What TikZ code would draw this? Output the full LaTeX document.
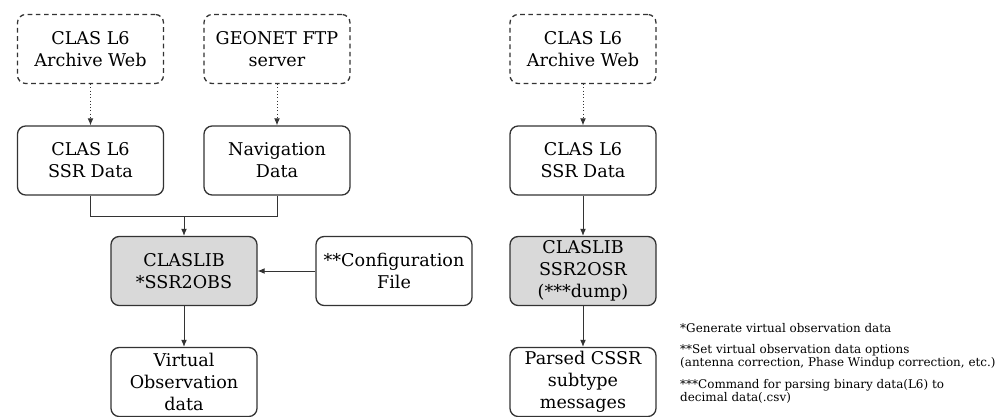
\documentclass[tikz,border=0pt]{standalone}
\usepackage{fontspec}
\setmainfont{DejaVu Serif}
\usepackage{tikz}
\usetikzlibrary{positioning, arrows.meta, calc}

\definecolor{lineclr}{HTML}{333333}
\definecolor{libfill}{HTML}{D9D9D9}

\tikzset{
  clas/box/.style={draw=lineclr, line width=1.1pt, rounded corners=7pt,
    minimum width=4.38cm, minimum height=2.07cm, align=center,
    inner sep=2pt, font=\fontsize{15}{18.8}\selectfont},
  clas/source/.style={clas/box, dashed, dash pattern=on 4pt off 3pt},
  clas/lib/.style={clas/box, fill=libfill},
  clas/flow/.style={-{Latex[length=6pt, width=5pt]}, draw=lineclr, line width=0.8pt},
  clas/fetch/.style={clas/flow, dotted},
  clas/note/.style={anchor=west, align=left, inner sep=0pt,
    font=\fontsize{10.2}{11.2}\selectfont},
}

\begin{document}
\begin{tikzpicture}[x=0.03cm, y=-0.03cm]

\useasboundingbox (0,0) rectangle (1000,417);

% ── Left chain: SSR2OBS ─────────────────────────────────
\node[clas/source] (web1) at (90.5, 49) {CLAS L6\\Archive Web};
\node[clas/source] (ftp)  at (277, 49)  {GEONET FTP\\server};

\node[clas/box] (ssr1) at (90.5, 160.5) {CLAS L6\\SSR Data};
\node[clas/box] (nav)  at (277, 160.5)  {Navigation\\Data};

\node[clas/lib] (obs) at (184, 271) {CLASLIB\\*SSR2OBS};
\node[clas/box, minimum width=4.68cm] (conf) at (394, 271)
  {**Configuration\\File};

\node[clas/box] (vobs) at (184, 382) {Virtual\\Observation\\data};

\coordinate (join) at (184, 216);

\draw[clas/fetch] (web1) -- (ssr1);
\draw[clas/fetch] (ftp) -- (nav);

% merge of the two inputs
\draw[draw=lineclr, line width=0.8pt] (ssr1.south) |- (join);
\draw[draw=lineclr, line width=0.8pt] (nav.south) |- (join);
\draw[clas/flow] (join) -- (obs.north);

\draw[clas/flow] (conf) -- (obs);
\draw[clas/flow] (obs) -- (vobs);

% ── Right chain: SSR2OSR ────────────────────────────────
\node[clas/source] (web2) at (583, 49) {CLAS L6\\Archive Web};
\node[clas/box] (ssr2) at (583, 160.5) {CLAS L6\\SSR Data};
\node[clas/lib] (osr) at (583, 271) {CLASLIB\\SSR2OSR\\(***dump)};
\node[clas/box] (cssr) at (583, 382) {Parsed CSSR\\subtype\\messages};

\draw[clas/fetch] (web2) -- (ssr2);
\draw[clas/flow] (ssr2) -- (osr);
\draw[clas/flow] (osr) -- (cssr);

% ── Notes ───────────────────────────────────────────────
\node[clas/note] (n1) at (680, 328) {*Generate virtual observation data};
\node[clas/note] (n2) at (680, 357)
  {**Set virtual observation data options\\(antenna correction, Phase Windup correction, etc.)};
\node[clas/note] (n3) at (680, 391.5)
  {***Command for parsing binary data(L6) to\\decimal data(.csv)};

\end{tikzpicture}
\end{document}
